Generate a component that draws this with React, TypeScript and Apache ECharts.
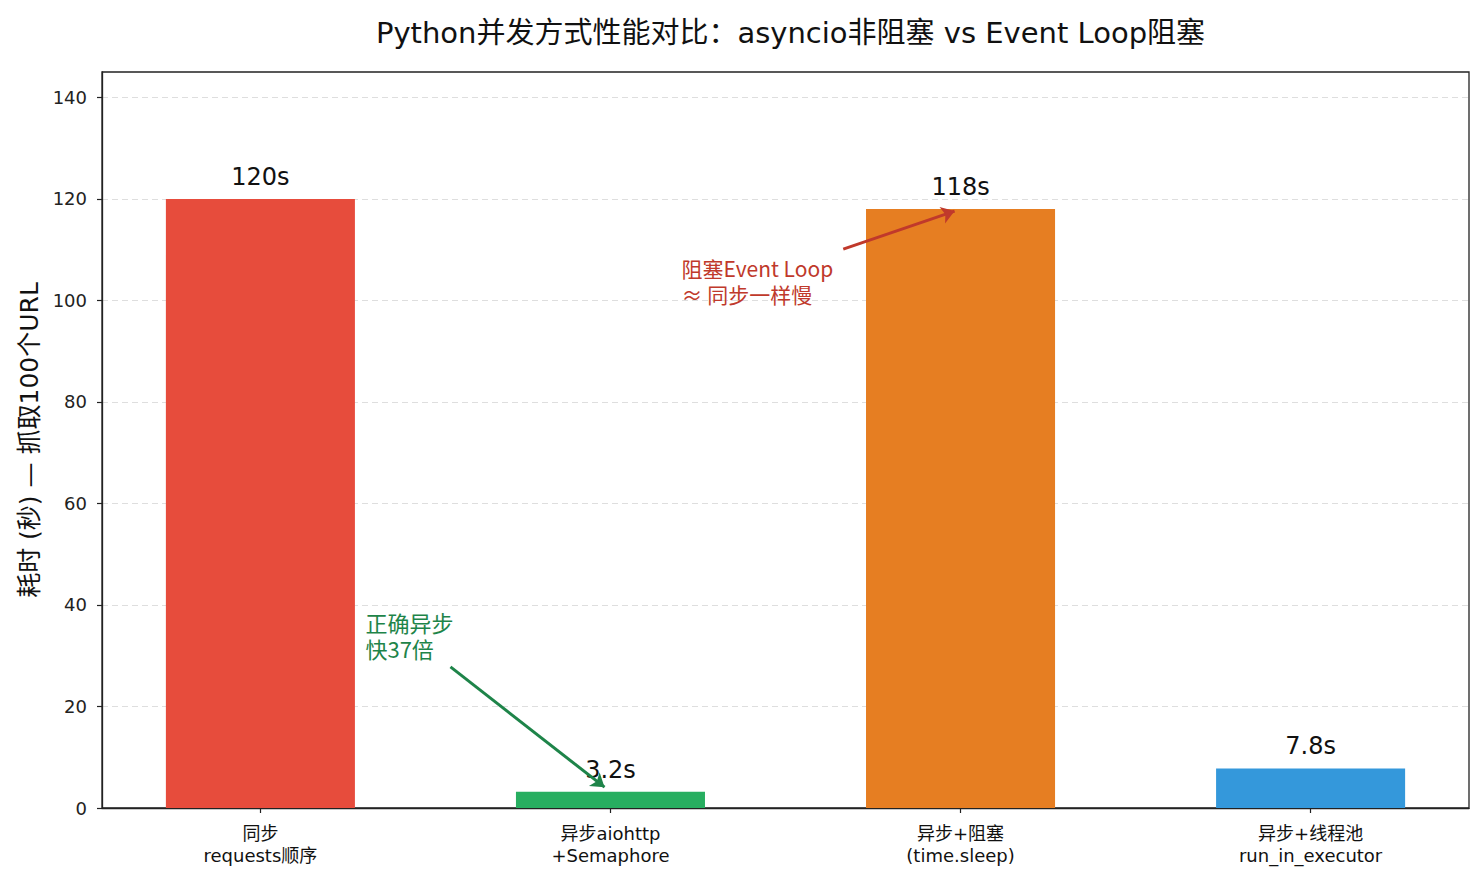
import { useEffect, useRef } from "react";
import * as echarts from "echarts";

// Benchmark: time to fetch 100 URLs with different concurrency approaches
const categories = [
  "同步\nrequests顺序",
  "异步aiohttp\n+Semaphore",
  "异步+阻塞\n(time.sleep)",
  "异步+线程池\nrun_in_executor",
];
const durations = [120, 3.2, 118, 7.8];
const valueLabels = ["120s", "3.2s", "118s", "7.8s"];
const barColors = ["#e74c3c", "#27ae60", "#e67e22", "#3498db"];
const yTicks = [0, 20, 40, 60, 80, 100, 120, 140];
const categoryIndex = [0, 1, 2, 3];

// Callout notes (data coordinates)
const fastNoteLines = ["正确异步", "快37倍"];
const fastNoteAt = [0.3, 34];
const fastArrow = [[0.543, 27.8], [0.983, 4.1]];
const blockNoteLines = ["阻塞Event Loop", "≈ 同步一样慢"];
const blockNoteAt = [1.203, 103.8];
const blockArrow = [[1.665, 110.1], [1.983, 117.6]];

const TITLE = "Python并发方式性能对比：asyncio非阻塞 vs Event Loop阻塞";
const Y_NAME = "耗时 (秒) — 抓取100个URL";

const W = 1484;
const H = 883;
const GRID = { left: 102, right: 15, top: 72, bottom: 75 };
const X_MIN = -0.4525;
const X_MAX = 3.4525;
const Y_MAX = 145;
const BAR_FRACTION = 0.54;
const NOTE_LINE_GAP = 26;

const NUM_FONT = "'DejaVu Sans', sans-serif";
const MIXED_FONT = "'DejaVu Sans', 'Noto Sans CJK SC', sans-serif";
const CJK_FONT = "'Noto Sans CJK SC', sans-serif";
const GREEN = "#1e8449";
const RED = "#c0392b";

// One markPoint per text line, stacked around the note's anchor
function noteItems(lines: string[], at: number[], color: string, fontSize: number) {
  const half = (lines.length - 1) / 2;
  return lines.map((line, k) => ({
    coord: at,
    symbol: "circle",
    symbolSize: 0,
    label: {
      show: true,
      position: "right",
      distance: 0,
      offset: [0, (k - half) * NOTE_LINE_GAP],
      formatter: line,
      color,
      fontSize,
      fontFamily: CJK_FONT,
    },
  }));
}

export default function App() {
  const ref = useRef<HTMLDivElement>(null);

  useEffect(() => {
    if (!ref.current) return;
    const chart = echarts.init(ref.current, null, { renderer: "svg" });
    const plotW = W - GRID.left - GRID.right;
    const barWidth = (BAR_FRACTION * plotW) / (X_MAX - X_MIN);

    chart.setOption({
      animation: false,
      title: {
        text: TITLE,
        left: GRID.left + plotW / 2,
        textAlign: "center",
        top: 13,
        textStyle: {
          fontSize: 29,
          fontWeight: "normal",
          fontFamily: MIXED_FONT,
          color: "#111",
        },
      },
      grid: {
        ...GRID,
        show: true,
        borderColor: "#222",
        borderWidth: 1.3,
        containLabel: false,
      },
      xAxis: {
        type: "value",
        min: X_MIN,
        max: X_MAX,
        axisLine: { show: true, onZero: false, lineStyle: { color: "#222", width: 1.3 } },
        axisTick: {
          show: true,
          length: 5,
          customValues: categoryIndex,
          lineStyle: { color: "#222", width: 1.2 },
        },
        axisLabel: {
          customValues: categoryIndex,
          formatter: (v: number) => categories[Math.round(v)],
          fontSize: 18,
          lineHeight: 22,
          fontFamily: MIXED_FONT,
          color: "#111",
          margin: 14,
        },
        splitLine: { show: false },
      },
      yAxis: {
        type: "value",
        min: 0,
        max: Y_MAX,
        interval: 20,
        axisLine: { show: true, onZero: false, lineStyle: { color: "#222", width: 1.3 } },
        axisTick: {
          show: true,
          length: 5,
          customValues: yTicks,
          lineStyle: { color: "#222", width: 1.2 },
        },
        axisLabel: {
          customValues: yTicks,
          fontSize: 18,
          fontFamily: NUM_FONT,
          color: "#222",
          margin: 15,
        },
        splitLine: {
          show: true,
          lineStyle: { type: [6, 4], color: "#dedede", width: 1 },
        },
        name: Y_NAME,
        nameLocation: "middle",
        nameGap: 60,
        nameTextStyle: { fontSize: 25, fontFamily: MIXED_FONT, color: "#111" },
      },
      series: [
        {
          type: "bar",
          barWidth,
          data: durations.map((v, i) => ({
            value: [categoryIndex[i], v],
            itemStyle: { color: barColors[i] },
          })),
          label: {
            show: true,
            position: "top",
            distance: 10,
            formatter: (p: any) => valueLabels[p.dataIndex],
            fontSize: 24,
            fontFamily: NUM_FONT,
            color: "#111",
          },
          markLine: {
            silent: true,
            symbol: ["none", "arrow"],
            symbolSize: 13,
            label: { show: false },
            lineStyle: { type: "solid", width: 3 },
            data: [
              [
                { coord: fastArrow[0], lineStyle: { color: GREEN, width: 3, type: "solid" } },
                { coord: fastArrow[1] },
              ],
              [
                { coord: blockArrow[0], lineStyle: { color: RED, width: 3, type: "solid" } },
                { coord: blockArrow[1] },
              ],
            ],
          },
          markPoint: {
            silent: true,
            data: [
              ...noteItems(fastNoteLines, fastNoteAt, GREEN, 22),
              ...noteItems(blockNoteLines, blockNoteAt, RED, 21),
            ],
          },
        },
      ],
    });

    return () => chart.dispose();
  }, []);

  return (
    <div
      ref={ref}
      style={{ position: "absolute", left: 0, top: 0, width: W, height: H, background: "#fff" }}
    />
  );
}
